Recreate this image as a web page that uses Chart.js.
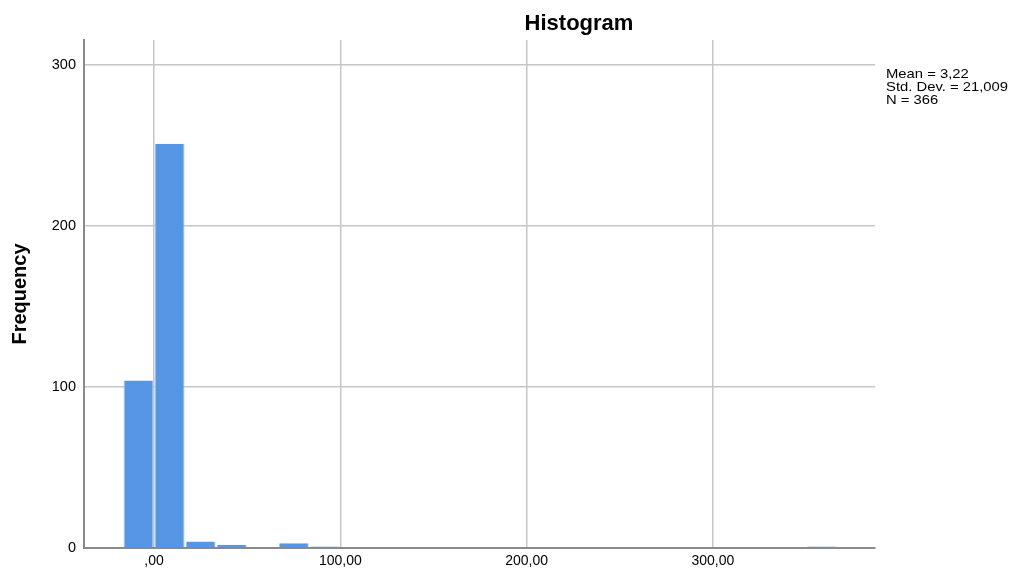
<!DOCTYPE html>
<html>
<head>
<meta charset="utf-8">
<script src="https://cdn.jsdelivr.net/npm/chart.js@4/dist/chart.umd.min.js"></script>
<style>
  html, body { margin: 0; padding: 0; background: #ffffff; }
  #wrap { position: relative; width: 1011px; height: 570px; overflow: hidden; font-family: "Liberation Sans", Arial, sans-serif; }
  #chart { position: absolute; left: 0; top: 0; }
  #title { position: absolute; left: 579px; top: 10px; transform: translateX(-50%); font-size: 22px; font-weight: bold; color: #000; white-space: nowrap; }
  #stats { position: absolute; left: 886px; top: 67px; font-size: 13px; line-height: 13px; color: #000; white-space: nowrap; transform: scaleX(1.14); transform-origin: left top; }
</style>
</head>
<body>
<div id="wrap">
  <canvas id="chart" width="1011" height="570"></canvas>
  <div id="title">Histogram</div>
  <div id="stats"></div>
</div>
<script>
// Histogram bins: first bin starts at binStart, each bin binWidth wide
const binStart = -100 / 6;
const binWidth = 100 / 6;
const counts = [104, 251, 4, 2, 0, 3, 1, 0, 0, 0, 0, 0, 0, 0, 0, 0, 0, 0, 0, 0, 0, 0, 1];

// Axis ticks and labels
const xTicks = [0, 100, 200, 300];
const xTickLabels = [',00', '100,00', '200,00', '300,00'];
const yTicks = [0, 100, 200, 300];
const yTickLabels = ['0', '100', '200', '300'];

// Summary statistics shown beside the plot
const statLines = ['Mean = 3,22', 'Std. Dev. = 21,009', 'N = 366'];

const xRange = [-37.6, 387];
const yRange = [0, 315.5];

document.getElementById('stats').innerHTML = statLines.join('<br>');

const points = counts.map((c, i) => ({ x: binStart + binWidth * (i + 0.5), y: c }));

const FONT = '"Liberation Sans", Arial, sans-serif';

new Chart(document.getElementById('chart'), {
  type: 'bar',
  data: {
    datasets: [{
      data: points,
      backgroundColor: '#5696e4',
      borderColor: '#a9c9f2',
      borderWidth: { top: 0, left: 1, right: 1, bottom: 0 },
      borderSkipped: 'bottom',
      barPercentage: 0.965,
      categoryPercentage: 1
    }]
  },
  options: {
    responsive: false,
    animation: false,
    devicePixelRatio: 1,
    layout: { padding: { left: 0, right: 136, top: 40, bottom: 0 } },
    plugins: { legend: { display: false }, tooltip: { enabled: false }, title: { display: false } },
    scales: {
      x: {
        type: 'linear',
        offset: false,
        min: xRange[0],
        max: xRange[1],
        afterFit: s => { s.height = 22; },
        afterBuildTicks: s => { s.ticks = xTicks.map(v => ({ value: v })); },
        ticks: {
          padding: 5,
          color: '#000',
          font: { family: FONT, size: 14 },
          maxRotation: 0,
          autoSkip: false,
          callback: (v) => xTickLabels[xTicks.indexOf(v)]
        },
        grid: { offset: false, color: '#c6c6c6', lineWidth: 1.5, drawTicks: false },
        border: { color: '#8a8a8a', width: 2 }
      },
      y: {
        type: 'linear',
        min: yRange[0],
        max: yRange[1],
        afterFit: s => { s.width = 84; },
        afterBuildTicks: s => { s.ticks = yTicks.map(v => ({ value: v })); },
        ticks: {
          padding: 8,
          color: '#000',
          font: { family: FONT, size: 14.5 },
          autoSkip: false,
          callback: (v) => yTickLabels[yTicks.indexOf(v)]
        },
        grid: { color: '#c6c6c6', lineWidth: 1.5, drawTicks: false },
        border: { color: '#8a8a8a', width: 2 },
        title: {
          display: true,
          text: 'Frequency',
          color: '#000',
          font: { family: FONT, size: 20, weight: 'bold' },
          padding: { top: 8, bottom: 0 }
        }
      }
    }
  }
});
</script>
</body>
</html>
